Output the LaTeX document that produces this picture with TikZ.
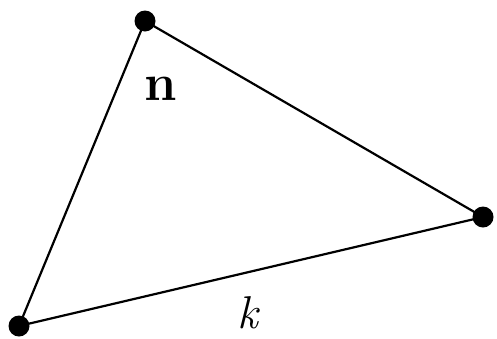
\documentclass[tikz,border=0pt]{standalone}
\begin{document}
\begin{tikzpicture}[x=1pt,y=-1pt,
  vtx/.style={circle,fill=black,inner sep=0pt,minimum size=21pt},
  edge/.style={line width=2.2pt,black},
  lbl/.style={inner sep=0pt}]
\useasboundingbox (0,0) rectangle (497,338);
\node[vtx] (a) at (145,21) {};
\node[vtx] (b) at (483,217) {};
\node[vtx] (c) at (19,326) {};
\draw[edge] (a.center) -- (b.center) -- (c.center) -- (a.center);
\node[lbl,font=\fontsize{52}{52}\selectfont\bfseries] (n) at (161,89) {n};
\node[lbl,font=\fontsize{46}{46}\selectfont\itshape] (k) at (248,313) {k};
\end{tikzpicture}
\end{document}
